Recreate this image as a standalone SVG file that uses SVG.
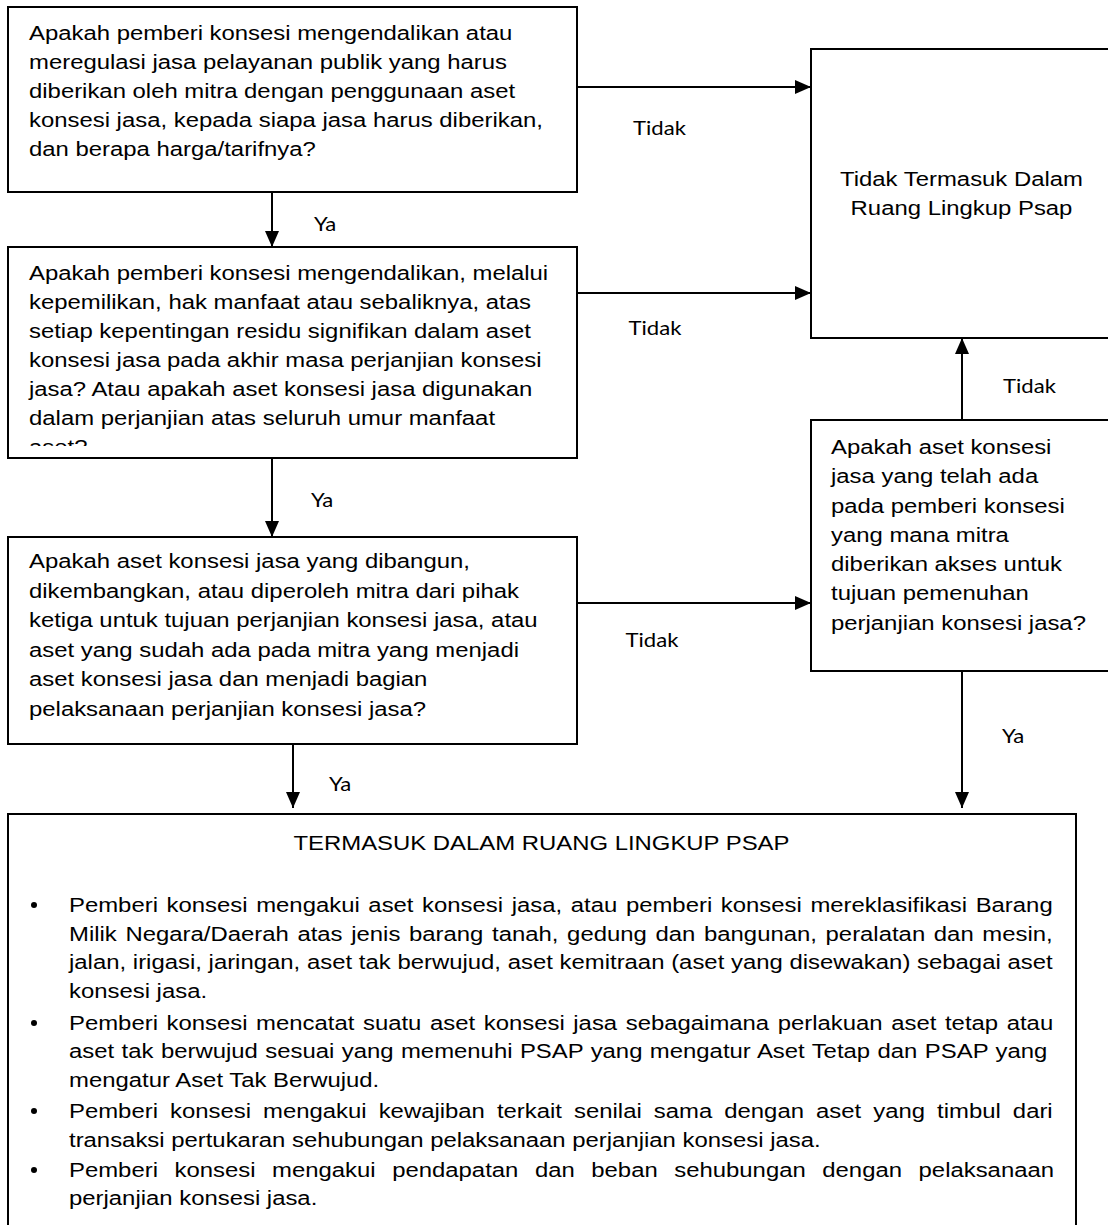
<svg xmlns="http://www.w3.org/2000/svg" width="1108" height="1225" viewBox="0 0 1108 1225">
<style>
.box{fill:#fff;stroke:#000;stroke-width:2}
.t{font-family:"Liberation Sans",Arial,sans-serif;font-size:21px;fill:#000}
.lbl{font-family:Lato,"Liberation Sans",sans-serif;font-size:18.5px;fill:#000}
.edge{fill:none;stroke:#000;stroke-width:2}
</style>
<defs>
<marker id="ah" viewBox="0 0 16 14" refX="16" refY="7" markerWidth="16" markerHeight="14" markerUnits="userSpaceOnUse" orient="auto">
<path d="M0,0 L16,7 L0,14 z" fill="#000"/>
</marker>
<clipPath id="clip2"><rect x="8" y="247" width="569" height="199"/></clipPath>
</defs>
<rect width="1108" height="1225" fill="#fff"/>

<g id="q1">
<rect class="box" x="8" y="7" width="569" height="185"/>
<g transform="translate(29,0) scale(1.138,1)">
<text class="t" x="0" y="40">Apakah pemberi konsesi mengendalikan atau</text>
<text class="t" x="0" y="69">meregulasi jasa pelayanan publik yang harus</text>
<text class="t" x="0" y="98">diberikan oleh mitra dengan penggunaan aset</text>
<text class="t" x="0" y="127">konsesi jasa, kepada siapa jasa harus diberikan,</text>
<text class="t" x="0" y="156">dan berapa harga/tarifnya?</text>
</g>
</g>

<g id="q2">
<rect class="box" x="8" y="247" width="569" height="211"/>
<g clip-path="url(#clip2)">
<g transform="translate(29,0) scale(1.138,1)">
<text class="t" x="0" y="280">Apakah pemberi konsesi mengendalikan, melalui</text>
<text class="t" x="0" y="309">kepemilikan, hak manfaat atau sebaliknya, atas</text>
<text class="t" x="0" y="338">setiap kepentingan residu signifikan dalam aset</text>
<text class="t" x="0" y="367">konsesi jasa pada akhir masa perjanjian konsesi</text>
<text class="t" x="0" y="396">jasa? Atau apakah aset konsesi jasa digunakan</text>
<text class="t" x="0" y="425">dalam perjanjian atas seluruh umur manfaat</text>
<text class="t" x="0" y="454">aset?</text>
</g>
</g>
</g>

<g id="q3">
<rect class="box" x="8" y="537" width="569" height="207"/>
<g transform="translate(29,0) scale(1.138,1)">
<text class="t" x="0" y="568">Apakah aset konsesi jasa yang dibangun,</text>
<text class="t" x="0" y="597.6">dikembangkan, atau diperoleh mitra dari pihak</text>
<text class="t" x="0" y="627.2">ketiga untuk tujuan perjanjian konsesi jasa, atau</text>
<text class="t" x="0" y="656.8">aset yang sudah ada pada mitra yang menjadi</text>
<text class="t" x="0" y="686.4">aset konsesi jasa dan menjadi bagian</text>
<text class="t" x="0" y="716">pelaksanaan perjanjian konsesi jasa?</text>
</g>
</g>

<g id="notIncluded">
<rect class="box" x="811" y="49" width="310" height="289"/>
<g transform="translate(961.5,0) scale(1.138,1)">
<text class="t" x="0" y="186" text-anchor="middle">Tidak Termasuk Dalam</text>
<text class="t" x="0" y="215" text-anchor="middle">Ruang Lingkup Psap</text>
</g>
</g>

<g id="q4">
<rect class="box" x="811" y="420" width="310" height="251"/>
<g transform="translate(831,0) scale(1.138,1)">
<text class="t" x="0" y="454">Apakah aset konsesi</text>
<text class="t" x="0" y="483.3">jasa yang telah ada</text>
<text class="t" x="0" y="512.6">pada pemberi konsesi</text>
<text class="t" x="0" y="541.9">yang mana mitra</text>
<text class="t" x="0" y="571.2">diberikan akses untuk</text>
<text class="t" x="0" y="600.5">tujuan pemenuhan</text>
<text class="t" x="0" y="629.8">perjanjian konsesi jasa?</text>
</g>
</g>

<g id="included">
<rect class="box" x="8" y="814" width="1068" height="430"/>
<g transform="translate(541.5,0) scale(1.138,1)">
<text class="t" x="0" y="850.5" text-anchor="middle">TERMASUK DALAM RUANG LINGKUP PSAP</text>
</g>
<g fill="#000">
<circle cx="34" cy="905" r="3"/>
<circle cx="34" cy="1023" r="3"/>
<circle cx="34" cy="1111" r="3"/>
<circle cx="34" cy="1170" r="3"/>
</g>
<g transform="translate(69,0) scale(1.138,1)">
<text class="t" x="0" y="912" word-spacing="1.74">Pemberi konsesi mengakui aset konsesi jasa, atau pemberi konsesi mereklasifikasi Barang</text>
<text class="t" x="0" y="941" word-spacing="1.78">Milik Negara/Daerah atas jenis barang tanah, gedung dan bangunan, peralatan dan mesin,</text>
<text class="t" x="0" y="969.5" word-spacing="0.08">jalan, irigasi, jaringan, aset tak berwujud, aset kemitraan (aset yang disewakan) sebagai aset</text>
<text class="t" x="0" y="998">konsesi jasa.</text>
<text class="t" x="0" y="1030" word-spacing="1.72">Pemberi konsesi mencatat suatu aset konsesi jasa sebagaimana perlakuan aset tetap atau</text>
<text class="t" x="0" y="1058.5" word-spacing="0.7">aset tak berwujud sesuai yang memenuhi PSAP yang mengatur Aset Tetap dan PSAP yang</text>
<text class="t" x="0" y="1087">mengatur Aset Tak Berwujud.</text>
<text class="t" x="0" y="1118" word-spacing="4.76">Pemberi konsesi mengakui kewajiban terkait senilai sama dengan aset yang timbul dari</text>
<text class="t" x="0" y="1147">transaksi pertukaran sehubungan pelaksanaan perjanjian konsesi jasa.</text>
<text class="t" x="0" y="1177" word-spacing="8.71">Pemberi konsesi mengakui pendapatan dan beban sehubungan dengan pelaksanaan</text>
<text class="t" x="0" y="1205.5">perjanjian konsesi jasa.</text>
</g>
</g>

<g id="connectors">
<line class="edge" x1="577" y1="87" x2="811" y2="87" marker-end="url(#ah)"/>
<line class="edge" x1="577" y1="293" x2="811" y2="293" marker-end="url(#ah)"/>
<line class="edge" x1="577" y1="603" x2="811" y2="603" marker-end="url(#ah)"/>
<line class="edge" x1="962" y1="420" x2="962" y2="338" marker-end="url(#ah)"/>
<line class="edge" x1="272" y1="192" x2="272" y2="247" marker-end="url(#ah)"/>
<line class="edge" x1="272" y1="458" x2="272" y2="537" marker-end="url(#ah)"/>
<line class="edge" x1="293" y1="744" x2="293" y2="808" marker-end="url(#ah)"/>
<line class="edge" x1="962" y1="671" x2="962" y2="808" marker-end="url(#ah)"/>
<g transform="translate(633,0) scale(1.195,1)"><text class="lbl" x="0" y="135">Tidak</text></g>
<g transform="translate(628.5,0) scale(1.195,1)"><text class="lbl" x="0" y="335">Tidak</text></g>
<g transform="translate(1003,0) scale(1.195,1)"><text class="lbl" x="0" y="393">Tidak</text></g>
<g transform="translate(625.5,0) scale(1.195,1)"><text class="lbl" x="0" y="647">Tidak</text></g>
<g transform="translate(314,0) scale(1.195,1)"><text class="lbl" x="0" y="231">Ya</text></g>
<g transform="translate(311,0) scale(1.195,1)"><text class="lbl" x="0" y="507">Ya</text></g>
<g transform="translate(329,0) scale(1.195,1)"><text class="lbl" x="0" y="791">Ya</text></g>
<g transform="translate(1002,0) scale(1.195,1)"><text class="lbl" x="0" y="743">Ya</text></g>
</g>
</svg>
